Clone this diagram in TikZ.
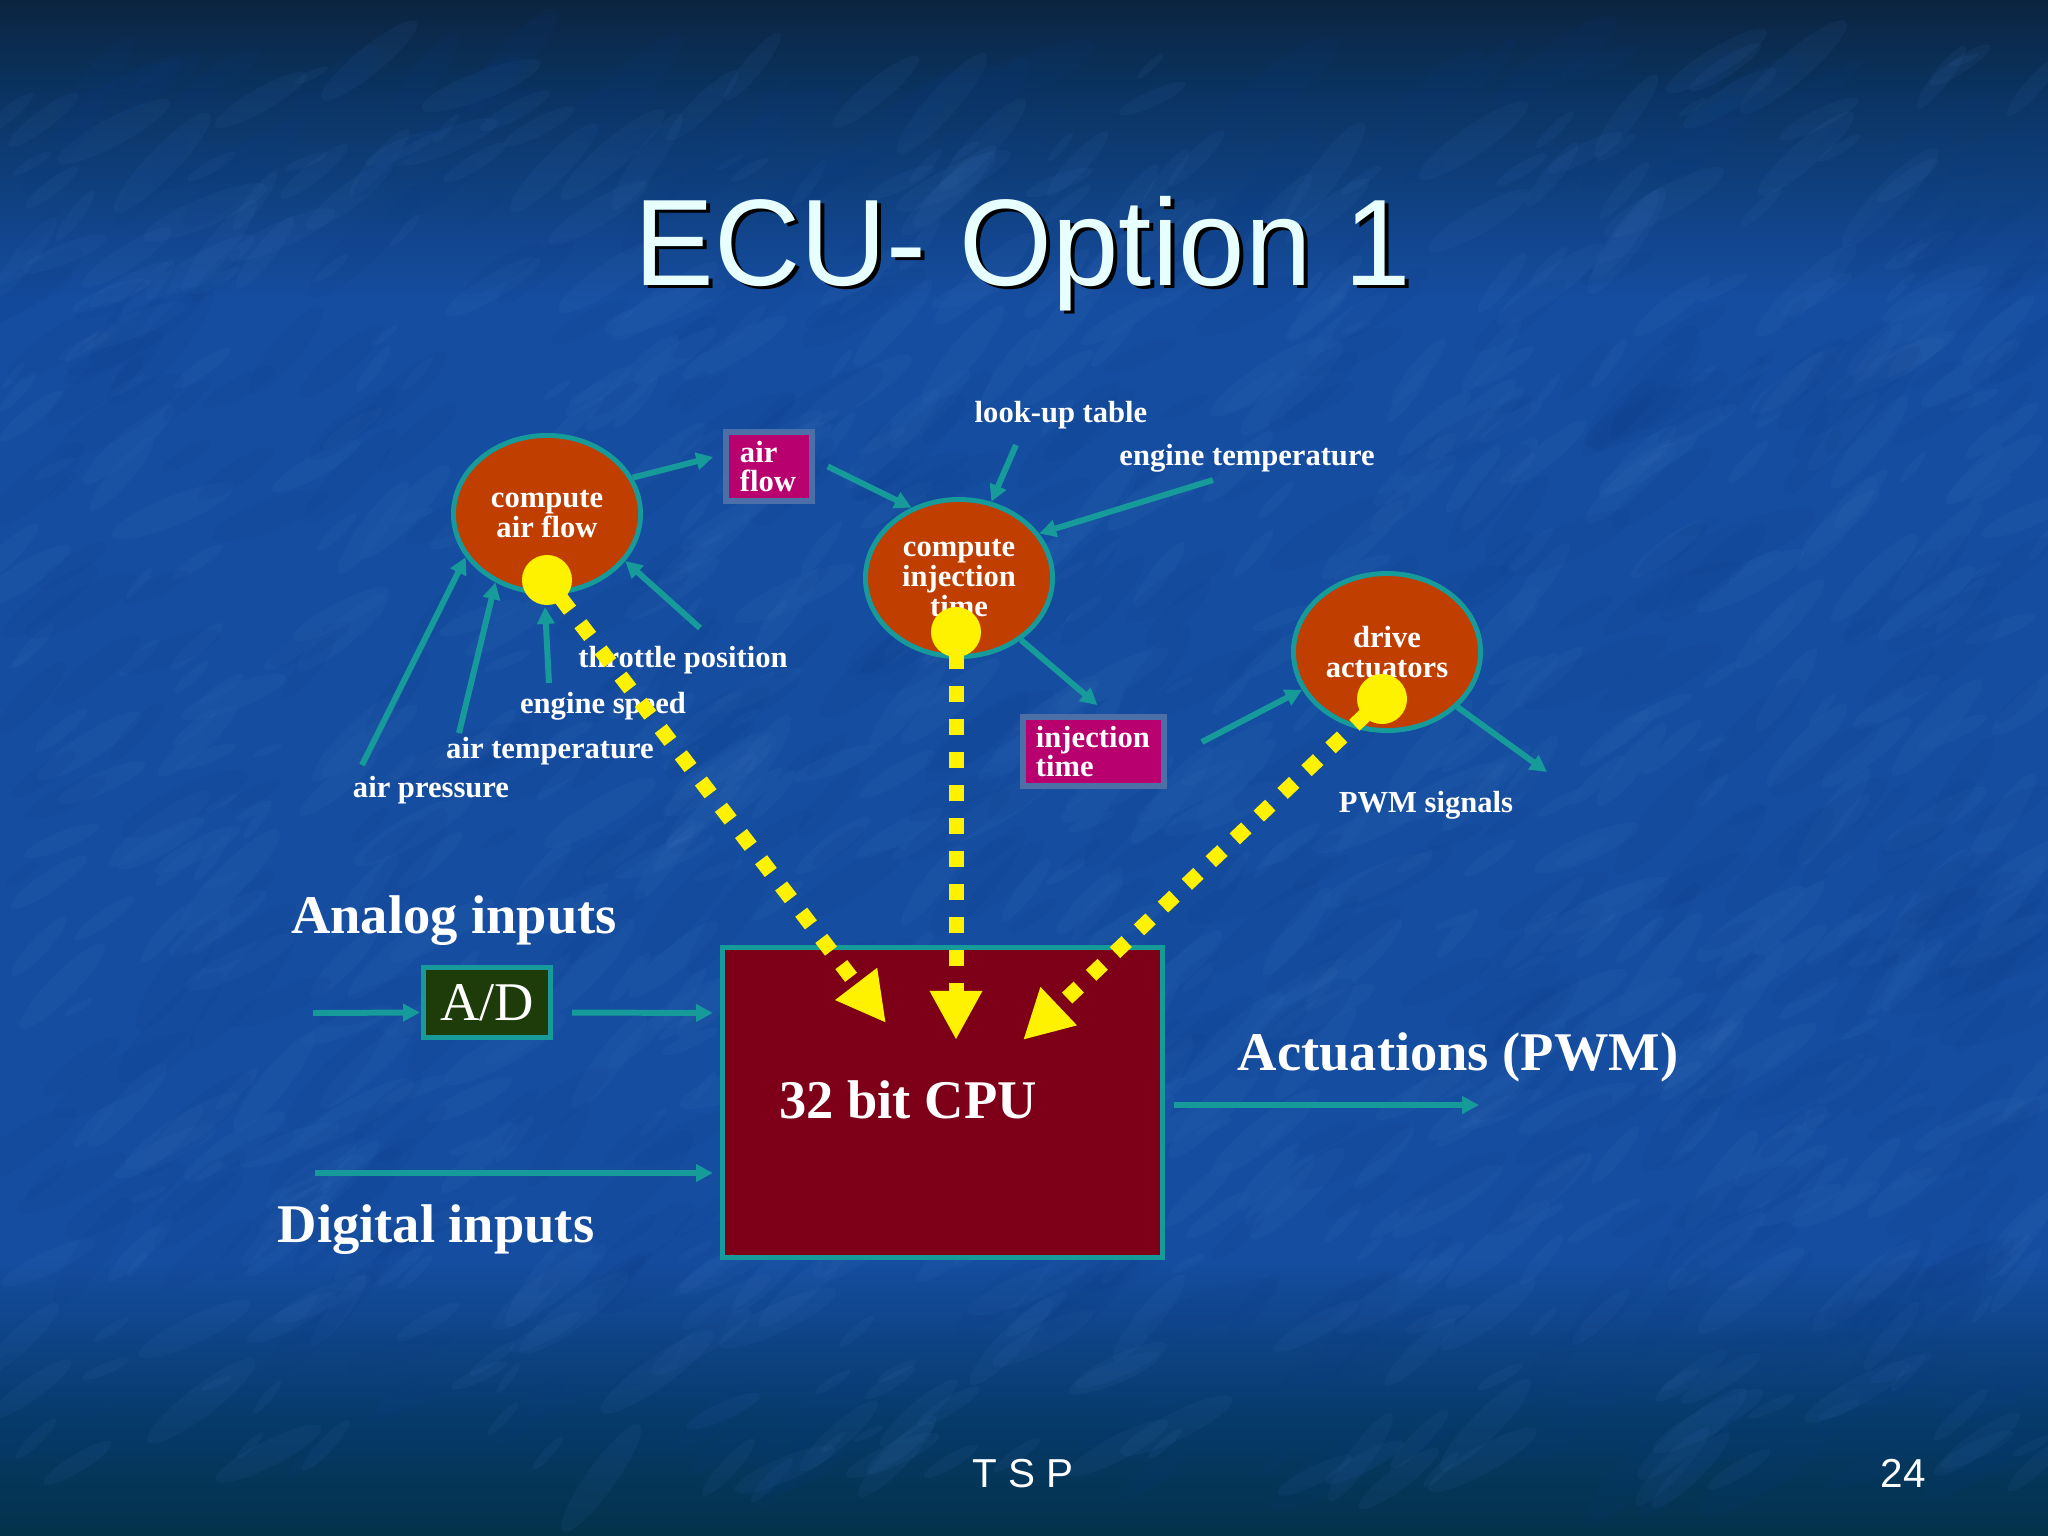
\documentclass[tikz,border=0pt]{standalone}
\usepackage{graphicx}
\usepackage{fontspec}
\setmainfont{Liberation Serif}
\newfontfamily\titlefamily{Liberation Sans}
\usetikzlibrary{arrows.meta,calc,shapes.geometric}

\definecolor{bgA}{HTML}{0B2440}
\definecolor{bgB}{HTML}{0A3360}
\definecolor{bgM}{HTML}{154DA0}
\definecolor{bgC}{HTML}{063A6A}
\definecolor{bgD}{HTML}{03324A}
\definecolor{tealc}{HTML}{169A9A}
\definecolor{procfill}{HTML}{BF3E00}
\definecolor{magfill}{HTML}{B8006E}
\definecolor{boxedge}{HTML}{4D6FA8}
\definecolor{cpufill}{HTML}{7D0018}
\definecolor{adfill}{HTML}{1E3C0A}
\definecolor{titlec}{HTML}{E8FFFF}
\definecolor{texlight}{HTML}{4A80C8}
\definecolor{texdark}{HTML}{0C3C84}

\newcommand\myS{\fontsize{8.7pt}{8.4pt}\selectfont\bfseries}
\newcommand\myB{\fontsize{15.5pt}{18pt}\selectfont\bfseries}
\newcommand\myT{\titlefamily\fontsize{35pt}{40pt}\selectfont}
\newcommand\myF{\titlefamily\fontsize{11.5pt}{13pt}\selectfont}

\tikzset{
  tl/.style={draw=tealc, line width=1.7pt, -{Triangle[length=4.8pt,width=4.8pt]}},
  proc/.style={ellipse, draw=tealc, line width=1.4pt, fill=procfill,
    minimum width=1.87cm, minimum height=1.57cm, inner sep=0pt,
    text=white, align=center, font=\myS},
  databox/.style={rectangle, draw=boxedge, line width=1.6pt, fill=magfill,
    minimum height=0.69cm, inner ysep=0pt, text=white, align=left, font=\myS},
  lbl/.style={text=white, inner sep=0pt, anchor=base, font=\myS},
  biglbl/.style={text=white, inner sep=0pt, anchor=base, font=\myB},
  ydot/.style={circle, fill=yellow, minimum size=0.5cm, inner sep=0pt},
  yline/.style={draw=yellow, line width=4.27pt, dash pattern=on 4.55pt off 4.84pt,
    -{Triangle[length=14pt,width=14pt]}},
  ystub/.style={draw=yellow, line width=4.27pt},
}

\begin{document}
\begin{tikzpicture}[x=0.01cm,y=-0.01cm]
\useasboundingbox (0,0) rectangle (2048,1536);
% background
\fill[bgM] (0,0) rectangle (2048,1536);
\shade[top color=bgA, bottom color=bgB] (0,0) rectangle (2048,90);
\shade[top color=bgB, bottom color=bgM] (0,89) rectangle (2048,300);
\shade[top color=bgM, bottom color=bgC] (0,1260) rectangle (2048,1421);
\shade[top color=bgC, bottom color=bgD] (0,1420) rectangle (2048,1536);
% mottled texture
\pgfmathsetseed{4711}
\foreach \i in {1,...,750}{
  \pgfmathsetmacro{\xx}{rnd*2048}
  \pgfmathsetmacro{\yy}{60+rnd*1420}
  \pgfmathsetmacro{\rr}{15+rnd*55}
  \pgfmathsetmacro{\ang}{20+rnd*35}
  \fill[texlight, opacity=0.08] (\xx,\yy) ellipse [x radius=\rr, y radius=0.22*\rr, rotate=\ang];
}
\foreach \i in {1,...,500}{
  \pgfmathsetmacro{\xx}{rnd*2048}
  \pgfmathsetmacro{\yy}{60+rnd*1420}
  \pgfmathsetmacro{\rr}{20+rnd*60}
  \pgfmathsetmacro{\ang}{20+rnd*35}
  \fill[texdark, opacity=0.10] (\xx,\yy) ellipse [x radius=\rr, y radius=0.25*\rr, rotate=\ang];
}

% title and footer
\node[anchor=base, inner sep=0pt, text=black] (titleshadow) at (1027,288) {\myT\scalebox{0.97}[1]{ECU- Option 1}};
\node[anchor=base, inner sep=0pt, text=titlec] (title) at (1023,285) {\myT\scalebox{0.97}[1]{ECU- Option 1}};
\node[anchor=base, inner sep=0pt, text=white] (tsp) at (1023,1487) {\myF T S P};
\node[anchor=base, inner sep=0pt, text=white] (pagenum) at (1903,1487) {\myF 24};

% process ellipses and data boxes
\node[proc] (eA) at (547,514) {compute\\air flow};
\node[proc] (eB) at (959,578) {compute\\injection\\time};
\node[proc] (eC) at (1387,652) {drive\\actuators};
\node[databox, text width=0.58cm, inner xsep=0.14cm] (afbox) at (769,466.5) {air\\flow};
\node[databox, text width=1.15cm, inner xsep=0.13cm] (itbox) at (1093.5,751.5) {injection\\time};

% A/D and CPU
\node[rectangle, draw=tealc, line width=1.4pt, fill=adfill, minimum width=1.27cm,
  minimum height=0.70cm, inner sep=0pt, text=white, font=\myB\mdseries] (adbox) at (487,1002.5) {A/D};
\node[rectangle, draw=tealc, line width=1.4pt, fill=cpufill, minimum width=4.40cm,
  minimum height=3.10cm, inner sep=0pt] (cpu) at (942.5,1102.5) {};

% labels
\node[lbl] (tp) at (683,667) {throttle position};
\node[lbl] (es) at (603,713) {engine speed};
\node[lbl] (at) at (550,758) {air temperature};
\node[lbl] (ap) at (431,797) {air pressure};
\node[lbl] (lut) at (1061,422) {look-up table};
\node[lbl] (et) at (1247,465) {engine temperature};
\node[lbl] (pwm) at (1426,812) {PWM signals};
\node[biglbl] (analog) at (454,933) {Analog inputs};
\node[biglbl] (digital) at (436,1242) {Digital inputs};
\node[biglbl] (actu) at (1458,1070) {Actuations (PWM)};
\node[biglbl] (cpulbl) at (908,1118) {32 bit CPU};

% free ends
\coordinate (apS) at (362,765);
\coordinate (atS) at (459,733);
\coordinate (esS) at (549,683);
\coordinate (esE) at (545,607);
\coordinate (tpS) at (700,628);
\coordinate (lutS) at (1016,445);
\coordinate (etS) at (1213,480);
\coordinate (pwmE) at (1547,772);
\coordinate (anS) at (313,1013);
\coordinate (diS) at (315,1173);
\coordinate (acE) at (1479,1105);

% teal connectors
\draw[tl] (apS) -- (eA.208);
\draw[tl] (atS) -- (eA.233);
\draw[tl] (esS) -- (esE);
\draw[tl] (tpS) -- (eA.329);
\draw[tl] (eA.23) -- ([shift={(-10,-9.5)}]afbox.west);
\draw[tl] ([shift={(13,0)}]afbox.east) -- (eB.124);
\draw[tl] (lutS) -- (eB.67);
\draw[tl] (etS) -- (eB.29);
\draw[tl] (eB.-45) -- ([shift={(4,-9)}]itbox.north);
\draw[tl] ([shift={(35,-9.5)}]itbox.east) -- (eC.204);
\draw[tl] (eC.-38) -- (pwmE);
\draw[tl] (anS) -- ([shift={(-1,10)}]adbox.west);
\draw[tl] ([shift={(19,10)}]adbox.east) -- ([shift={(-7,-89.5)}]cpu.west);
\draw[tl] (diS) -- ([shift={(-7,70.5)}]cpu.west);
\draw[tl] ([shift={(9,2.5)}]cpu.east) -- (acE);

% yellow flows
\coordinate (yAc) at (547,580);
\coordinate (yBc) at (956,632);
\coordinate (yCc) at (1382,699);
\coordinate (tA) at (886,1023);
\coordinate (tB) at (956,1040);
\coordinate (tC) at (1023,1040);
\draw[ystub] (yAc) -- ($(yAc)!0.38cm!(tA)$);
\draw[yline] ($(yAc)!0.55cm!(tA)$) -- (tA);
\draw[ystub] (yBc) -- ($(yBc)!0.37cm!(tB)$);
\draw[yline] ($(yBc)!0.54cm!(tB)$) -- (tB);
\draw[ystub] (yCc) -- ($(yCc)!0.38cm!(tC)$);
\draw[yline] ($(yCc)!0.55cm!(tC)$) -- (tC);
\node[ydot] (yA) at (yAc) {};
\node[ydot] (yB) at (yBc) {};
\node[ydot] (yC) at (yCc) {};
\end{tikzpicture}
\end{document}
